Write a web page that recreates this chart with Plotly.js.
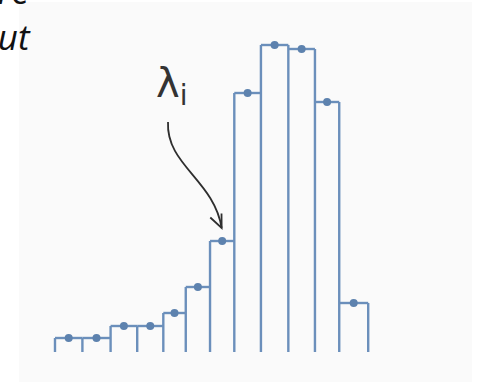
<!DOCTYPE html>
<html>
<head>
<meta charset="utf-8">
<script src="https://cdn.plot.ly/plotly-3.0.1.min.js"></script>
<style>
  html, body { margin: 0; padding: 0; background: #ffffff; }
  #chart { width: 485px; height: 382px; }
</style>
</head>
<body>
<div id="chart"></div>
<script>
// Bin edges (in bin units) and the height of each bin of the step histogram
const binEdges = [0, 1.05, 2.13, 3.15, 4.15, 5.01, 5.94, 6.87, 7.89, 8.94, 9.96, 10.89, 12.0];
const binHeights = [1.4, 1.4, 2.6, 2.6, 3.9, 6.5, 11.1, 25.9, 30.7, 30.3, 25.0, 4.9];
// Label of the highlighted bin
const highlightLabel = 'λ<sub>i</sub>';
const highlightBin = 6;
// Caption lines at the top left
const captionLines = ['are', 'about'];

const lineColor = '#6b8fbb';
const dotColor = '#5d82ae';

// Outline: vertical edges from the baseline plus the top of each bin
const ox = [], oy = [];
for (let i = 0; i < binEdges.length; i++) {
  const left = i > 0 ? binHeights[i - 1] : 0;
  const right = i < binHeights.length ? binHeights[i] : 0;
  ox.push(binEdges[i], binEdges[i], null);
  oy.push(0, Math.max(left, right), null);
}
for (let i = 0; i < binHeights.length; i++) {
  ox.push(binEdges[i], binEdges[i + 1], null);
  oy.push(binHeights[i], binHeights[i], null);
}

const centers = binHeights.map((_, i) => (binEdges[i] + binEdges[i + 1]) / 2);

const outline = {
  type: 'scatter', mode: 'lines', x: ox, y: oy,
  line: { color: lineColor, width: 2.4 },
  connectgaps: false, hoverinfo: 'skip', showlegend: false
};
const dots = {
  type: 'scatter', mode: 'markers', x: centers, y: binHeights,
  marker: { color: dotColor, size: 8 },
  showlegend: false
};

// Hand-drawn style pointer from the label to the highlighted bin
const tipX = centers[highlightBin] - 0.02;
const tipY = binHeights[highlightBin] + 1.3;

const captionFont = { family: 'Open Sans', size: 35, color: '#111111' };

const layout = {
  width: 485, height: 382,
  margin: { l: 19, r: 13, t: 2, b: 0, pad: 0 },
  paper_bgcolor: '#ffffff',
  plot_bgcolor: '#fafafa',
  xaxis: { range: [-1.379, 15.977], visible: false, fixedrange: true },
  yaxis: { range: [-3.0, 35.0], visible: false, fixedrange: true },
  showlegend: false,
  shapes: [
    {
      type: 'path', xref: 'x', yref: 'y',
      path: `M 4.33 23.0 C 4.25 18.7, 6.09 17.2, ${tipX} ${tipY}`,
      line: { color: '#2e2e2e', width: 1.8 }
    },
    {
      type: 'path', xref: 'x', yref: 'y',
      path: `M 5.95 13.45 L ${tipX} ${tipY} L 6.38 13.85`,
      line: { color: '#2e2e2e', width: 1.8 }
    }
  ],
  annotations: [
    {
      text: highlightLabel, xref: 'x', yref: 'y',
      x: 4.45, y: 26.6, showarrow: false,
      xanchor: 'center', yanchor: 'middle',
      font: { family: 'DejaVu Sans', size: 40, color: '#333333' }
    },
    {
      text: '<i>' + captionLines[0] + '</i>', xref: 'paper', yref: 'paper',
      x: 12 / 453, y: 1,
      xanchor: 'right', yanchor: 'bottom', showarrow: false,
      yshift: -14,
      font: captionFont
    },
    {
      text: '<i>' + captionLines[1] + '</i>', xref: 'paper', yref: 'paper',
      x: 14 / 453, y: 1,
      xanchor: 'right', yanchor: 'bottom', showarrow: false,
      yshift: -60,
      font: captionFont
    }
  ]
};

Plotly.newPlot('chart', [outline, dots], layout, { staticPlot: true, displayModeBar: false });
</script>
</body>
</html>
